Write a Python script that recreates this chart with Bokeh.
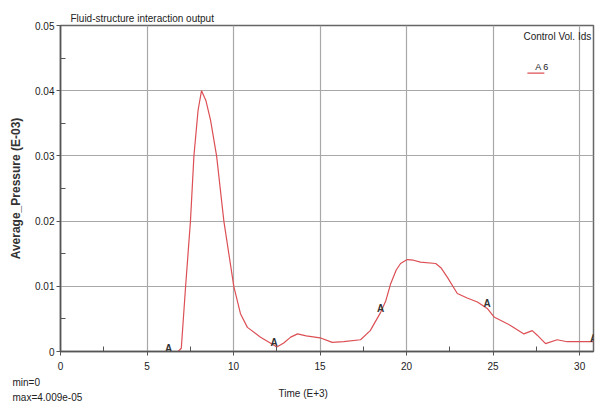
import numpy as np
from bokeh.plotting import figure
from bokeh.models import Range1d, FixedTicker, PrintfTickFormatter, Label, ColumnDataSource, Title
from bokeh.core.properties import value
from bokeh.embed import file_html
from bokeh.resources import INLINE

# ---- data ----
time = [0, 6.8, 6.98, 7.23, 7.51, 7.71, 7.95, 8.15, 8.4, 8.67, 9.02, 9.44, 10.02, 10.4,
        10.8, 11.56, 12.0, 12.5, 12.9, 13.3, 13.7, 14.2, 15.0, 15.7, 16.36, 17.34, 17.9,
        18.5, 18.8, 19.08, 19.4, 19.65, 20.04, 20.4, 20.8, 21.68, 22.0, 22.35, 22.93,
        23.5, 24.09, 24.66, 25.05, 26.0, 26.78, 27.26, 27.55, 28.03, 28.7, 29.28, 30.73, 30.8]
pressure = [0, 0, 0.0005, 0.010, 0.020, 0.030, 0.037, 0.040, 0.0385, 0.0355, 0.030, 0.020,
            0.0099, 0.0058, 0.0037, 0.0022, 0.0015, 0.0007, 0.0013, 0.0022, 0.0027, 0.0024,
            0.0021, 0.0014, 0.0015, 0.0018, 0.0032, 0.0060, 0.0078, 0.0104, 0.0125, 0.0135,
            0.0141, 0.0140, 0.0137, 0.0135, 0.0128, 0.0114, 0.0089, 0.0082, 0.0076, 0.0066,
            0.0053, 0.0040, 0.0027, 0.0032, 0.0025, 0.0012, 0.0018, 0.0015, 0.0015, 0.0015]
marker_x = [6.25, 12.35, 18.5, 24.65, 30.8]
marker_y = [0.0, 0.0008, 0.0060, 0.0068, 0.0015]
marker_text = ["A", "A", "A", "A", "A"]
x_ticks = [0, 5, 10, 15, 20, 25, 30]
x_minor = [2.5, 7.5, 12.5, 17.5, 22.5, 27.5]
y_ticks = [0, 0.01, 0.02, 0.03, 0.04, 0.05]
y_minor = [0.005, 0.015, 0.025, 0.035, 0.045]

FONT = "Liberation Sans"
LINE = "#dc4f55"
TXT = "#222222"

p = figure(width=612, height=405, output_backend="svg", toolbar_location=None,
           x_range=Range1d(0, 30.8), y_range=Range1d(0, 0.05),
           min_border_left=60, min_border_right=19, min_border_top=25, min_border_bottom=54)
p.background_fill_color = "white"
p.border_fill_color = "white"
p.outline_line_color = "#666666"
p.outline_line_width = 1.5

# title
p.title.text = "Fluid-structure interaction output"
p.title.align = "left"
p.title.offset = 10
p.title.text_font = FONT
p.title.text_font_size = "10px"
p.title.text_font_style = "normal"
p.title.text_color = TXT
p.title.standoff = 4

p.xaxis.ticker = FixedTicker(ticks=x_ticks, minor_ticks=x_minor)
p.yaxis.ticker = FixedTicker(ticks=y_ticks, minor_ticks=y_minor)
p.yaxis.formatter = PrintfTickFormatter(format="%g")
for ax in (p.xaxis, p.yaxis):
    ax.axis_line_color = "#555555"
    ax.axis_line_width = 1.5
    ax.major_tick_line_color = "#555555"
    ax.minor_tick_line_color = "#555555"
    ax.major_tick_in = 0
    ax.major_tick_out = 4
    ax.minor_tick_in = 5
    ax.minor_tick_out = 0
    ax.major_label_text_font = FONT
    ax.major_label_text_font_size = "10px"
    ax.major_label_text_color = TXT
p.xaxis.major_label_standoff = 6
p.yaxis.major_label_standoff = 2

p.yaxis.axis_label = "Average_Pressure (E-03)"
p.yaxis.axis_label_text_font = FONT
p.yaxis.axis_label_text_font_size = "12px"
p.yaxis.axis_label_text_font_style = "bold"
p.yaxis.axis_label_text_color = "#333333"
p.yaxis.axis_label_standoff = 9

# texts under the x axis
def below(text, offset, size, standoff):
    t = Title(text=text, align="left", offset=offset, text_font=FONT, text_font_size=size,
              text_font_style="normal", text_color=TXT, standoff=standoff)
    p.add_layout(t, "below")

below("min=0", -48, "10px", 5)
below("Time (E+3)", 218, "10px", -10)
below("max=4.009e-05", -48, "10px", -8)

p.xgrid.ticker = FixedTicker(ticks=x_ticks)
p.ygrid.ticker = FixedTicker(ticks=y_ticks)
p.grid.grid_line_color = "#a8a8a8"
p.grid.grid_line_width = 1.2

p.line(time, pressure, line_color=LINE, line_width=1.2)

msrc = ColumnDataSource(dict(x=marker_x, y=marker_y, t=marker_text))
p.text(x="x", y="y", text="t", source=msrc, text_align="center", text_baseline="bottom",
       y_offset=2, text_font=value(FONT), text_font_size="10px", text_color="#333333",
       text_font_style="bold")

def lab(x, y, text, size="10px"):
    p.add_layout(Label(x=x, y=y, text=text, text_font=FONT, text_font_size=size,
                       text_align="left", text_baseline="middle", text_color=TXT))

lab(26.75, 0.0483, "Control Vol. Ids", size="10px")
lab(27.44, 0.04356, "A 6", size="9px")
p.line([26.98, 27.96], [0.0427, 0.0427], line_color=LINE, line_width=1.2)

open("out.html", "w").write(file_html(p, INLINE))
